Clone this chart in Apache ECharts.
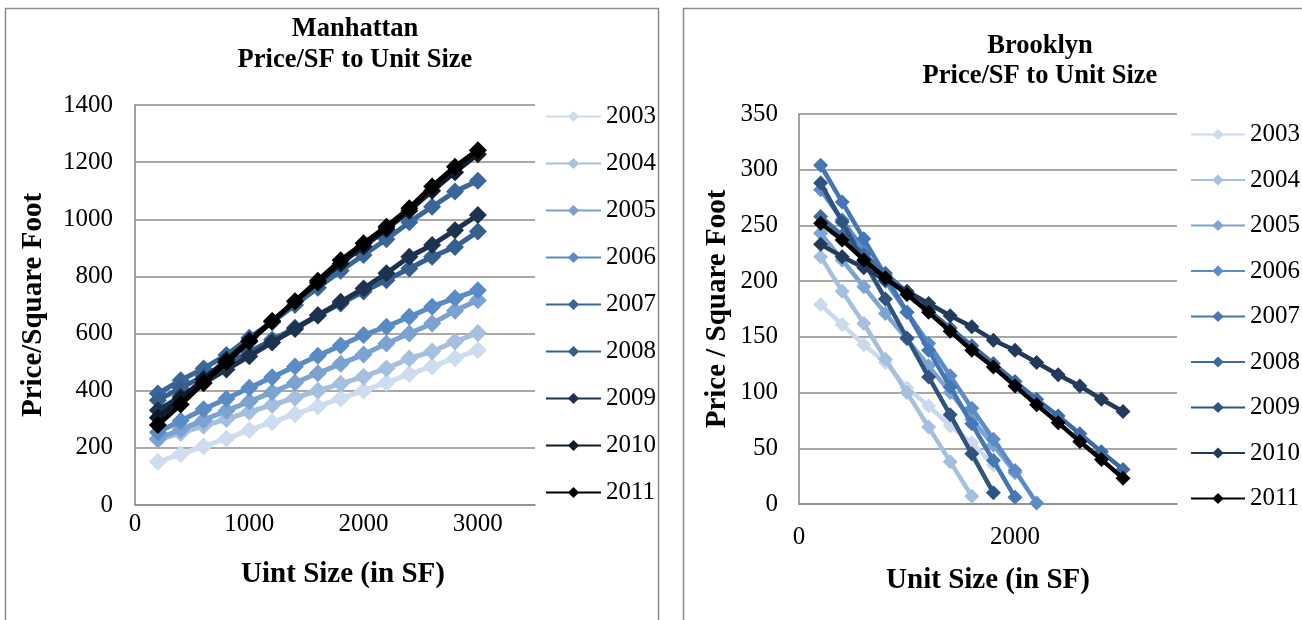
<!DOCTYPE html>
<html><head><meta charset="utf-8">
<script src="https://cdn.jsdelivr.net/npm/echarts@6/dist/echarts.min.js"></script>
<style>html,body{margin:0;padding:0;background:#fff}#c{width:1302px;height:620px}</style>
</head><body><div id="c"></div>
<script>
// ---------- DATA ----------
const years = ['2003','2004','2005','2006','2007','2008','2009','2010','2011'];
const manhattanSizes = [200,400,600,800,1000,1200,1400,1600,1800,2000,2200,2400,2600,2800,3000];
const m2003 = [151,178,205,232,262,290,318,345,373,400,428,458,485,514,542];
const m2004 = [228,252,277,301,326,350,375,400,424,449,478,513,537,572,602];
const m2005 = [232,264,297,330,362,395,428,461,494,527,565,600,635,680,717];
const m2006 = [255,295,335,372,410,447,485,522,558,595,624,659,694,724,752];
const m2007 = [390,437,478,525,585,640,700,760,820,875,930,990,1044,1097,1135];
const m2008 = [367,409,451,494,536,578,620,663,705,747,787,828,869,903,957];
const m2009 = [332,379,427,474,521,569,616,664,711,758,811,869,910,962,1015];
const m2010 = [305,372,440,508,576,644,712,778,845,905,965,1030,1100,1165,1228];
const m2011 = [280,352,427,500,572,643,713,785,857,916,974,1039,1115,1184,1242];

const brooklynSizes = [200,400,600,800,1000,1200,1400,1600,1800,2000,2200,2400,2600,2800,3000];
const b2003 = [179,161,143,127,104,88,70,55,35];
const b2004 = [222,191,162,130,100,69,38,7];
const b2005 = [243,219,195,171,148,124,100,76,53,28];
const b2006 = [282,255,228,200,172,144,115,86,58,30,1];
const b2007 = [304,271,238,205,172,138,105,72,39,6];
const b2008 = [258,241,224,207,190,174,158,142,126,110,94,79,63,47,31];
const b2009 = [288,253,218,184,149,114,80,45,10];
const b2010 = [233,222,212,201,191,180,169,159,147,138,127,116,106,94,83];
const b2011 = [252,237,219,203,188,172,155,138,123,106,89,73,56,40,23];

const manhattanColors = ['#cddcee','#a5bfdf','#7ba2d0','#5a8bc4','#3a6699','#355f8f','#1d324f','#0f1b2a','#000000'];
const brooklynColors = ['#cad9ec','#a5bfdf','#7ea4d1','#5b8cc8','#4577b5','#3d6ba3','#2f5480','#223a5c','#000000'];

const manhattanValues = [m2003,m2004,m2005,m2006,m2007,m2008,m2009,m2010,m2011];
const brooklynValues = [b2003,b2004,b2005,b2006,b2007,b2008,b2009,b2010,b2011];

// ---------- CHART ----------
const FONT = '"Liberation Serif","Times New Roman",serif';
const chart = echarts.init(document.getElementById('c'), null, {renderer:'canvas'});

function pairs(sizes, vals){ return vals.map((v,i)=>[sizes[i], v]); }

const series = [];
years.forEach((y,i)=>{
  series.push({
    name: y, type:'line', xAxisIndex:0, yAxisIndex:0,
    data: pairs(manhattanSizes, manhattanValues[i]),
    symbol:'diamond', symbolSize:18, showSymbol:true,
    lineStyle:{width:5, color:manhattanColors[i]},
    itemStyle:{color:manhattanColors[i]},
    z: 2+i, animation:false
  });
});
years.forEach((y,i)=>{
  series.push({
    name: 'B'+y, type:'line', xAxisIndex:1, yAxisIndex:1,
    data: pairs(brooklynSizes, brooklynValues[i]),
    symbol:'diamond', symbolSize:15, showSymbol:true,
    lineStyle:{width:4.5, color:brooklynColors[i]},
    itemStyle:{color:brooklynColors[i]},
    z: 2+i, animation:false
  });
});

const axisLabel = {color:'#000', fontFamily:FONT, fontSize:25};
const gridLine = {show:true, lineStyle:{color:'#8c8c8c', width:1.6}};
const axisLine = {show:true, lineStyle:{color:'#8c8c8c', width:1.6}};
const nameStyle = {fontFamily:FONT, fontWeight:'bold', fontSize:29, color:'#000'};
const titleStyle = {fontFamily:FONT, fontWeight:'bold', fontSize:26.5, color:'#000'};
const legendText = {fontFamily:FONT, fontSize:25, color:'#000'};

const option = {
  animation:false,
  backgroundColor:'#fff',
  title:[
    {text:'Manhattan', left:350, top:11, textAlign:'center', textStyle:titleStyle},
    {text:'Price/SF to Unit Size', left:350, top:42, textAlign:'center', textStyle:titleStyle},
    {text:'Brooklyn', left:1035, top:28, textAlign:'center', textStyle:titleStyle},
    {text:'Price/SF to Unit Size', left:1035, top:58, textAlign:'center', textStyle:titleStyle}
  ],
  graphic:[
    {type:'rect', shape:{x:5.5, y:8.5, width:653, height:640}, style:{fill:null, stroke:'#8c8c8c', lineWidth:1.5}, silent:true},
    {type:'rect', shape:{x:683.5, y:8.5, width:640, height:640}, style:{fill:null, stroke:'#8c8c8c', lineWidth:1.5}, silent:true}
  ],
  legend:[
    {orient:'vertical', left:545, top:104, padding:0, itemWidth:55, itemHeight:14, itemGap:22,
     data:years, textStyle:legendText, selectedMode:false},
    {orient:'vertical', left:1190, top:122, padding:0, itemWidth:54, itemHeight:14, itemGap:20.5,
     data:years.map(y=>'B'+y), formatter:n=>n.slice(1),
     textStyle:legendText, selectedMode:false}
  ],
  grid:[
    {left:135, top:105, width:400, height:400, containLabel:false},
    {left:799, top:114, width:378, height:390, containLabel:false}
  ],
  xAxis:[
    {type:'value', gridIndex:0, min:0, max:3500, interval:1000,
     name:'Uint Size (in SF)', nameLocation:'middle', nameGap:55,
     nameTextStyle:Object.assign({}, nameStyle, {padding:[0,0,0,16]}),
     axisLine:axisLine, axisTick:{show:false}, splitLine:{show:false},
     axisLabel:Object.assign({}, axisLabel, {margin:7, formatter:v=> v%1000===0 ? String(v) : ''})},
    {type:'value', gridIndex:1, min:0, max:3500, interval:2000,
     name:'Unit Size (in SF)', nameLocation:'middle', nameGap:62, nameTextStyle:nameStyle,
     axisLine:axisLine, axisTick:{show:false}, splitLine:{show:false},
     axisLabel:Object.assign({}, axisLabel, {margin:21, formatter:v=> v%2000===0 ? String(v) : ''})}
  ],
  yAxis:[
    {type:'value', gridIndex:0, min:0, max:1400, interval:200,
     name:'Price/Square Foot', nameLocation:'middle', nameGap:87, nameTextStyle:nameStyle,
     axisLine:axisLine, axisTick:{show:false}, splitLine:gridLine,
     axisLabel:Object.assign({}, axisLabel, {margin:22, formatter:v=>String(v)})},
    {type:'value', gridIndex:1, min:0, max:350, interval:50,
     name:'Price / Square Foot', nameLocation:'middle', nameGap:67, nameTextStyle:nameStyle,
     axisLine:axisLine, axisTick:{show:false}, splitLine:gridLine,
     axisLabel:Object.assign({}, axisLabel, {margin:21, formatter:v=>String(v)})}
  ],
  series: series
};
chart.setOption(option);
</script>
</body></html>
